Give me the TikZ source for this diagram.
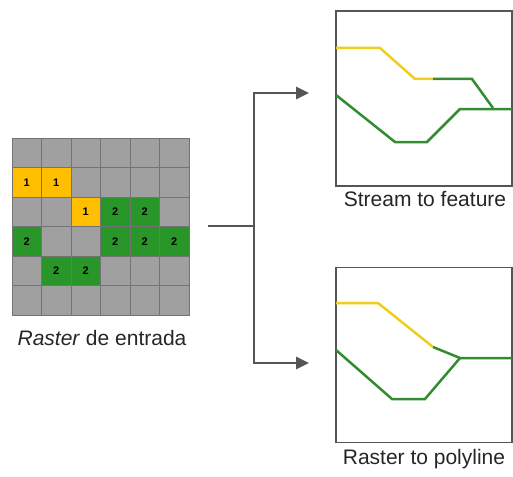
\documentclass[tikz,border=0pt]{standalone}
\usepackage{fontspec}
\setmainfont{Liberation Sans}
\usetikzlibrary{arrows.meta,positioning}

\definecolor{cellgray}{RGB}{160,160,160}
\definecolor{gridline}{RGB}{115,115,115}
\definecolor{cellyellow}{RGB}{255,190,0}
\definecolor{cellgreen}{RGB}{40,150,40}
\definecolor{lineyellow}{RGB}{240,205,30}
\definecolor{linegreen}{RGB}{50,140,50}
\definecolor{arrowgray}{RGB}{85,85,85}

\tikzset{
  cell/.style={draw=gridline, line width=0.8pt, minimum size=29.5pt, inner sep=0pt,
    font=\fontsize{11}{11}\selectfont\bfseries},
  panel/.style={draw=arrowgray, line width=1.5pt, minimum width=176pt, minimum height=175pt},
  caption/.style={font=\fontsize{21}{24}\selectfont, text=black!85},
  flow/.style={draw=arrowgray, line width=2.8pt},
  yline/.style={draw=lineyellow, line width=2.5pt},
  gline/.style={draw=linegreen, line width=2.5pt},
}

\begin{document}
\begin{tikzpicture}[x=1pt,y=-1pt]
\useasboundingbox (0,0) rectangle (513,476);

% input raster
\foreach \r in {0,...,5}
  \foreach \c in {0,...,5}
    \node[cell, fill=cellgray] (g\r\c) at ({26.75+29.5*\c},{152.75+29.5*\r}) {};
\foreach \r/\c in {1/0, 1/1, 2/2}
  \node[cell, fill=cellyellow] (y\r\c) at ({26.75+29.5*\c},{152.75+29.5*\r}) {1};
\foreach \r/\c in {2/3, 2/4, 3/0, 3/3, 3/4, 3/5, 4/1, 4/2}
  \node[cell, fill=cellgreen] (v\r\c) at ({26.75+29.5*\c},{152.75+29.5*\r}) {2};
\node[caption] (rin) at (102,338) {\textit{Raster} de entrada};

% output panels
\node[panel] (sf) at (424,98.5) {};
\node[caption] (sflabel) at (425,199) {Stream to feature};
\node[panel] (rp) at (424,355) {};
\node[caption] (rplabel) at (424,459) {Raster to polyline};

% Stream to feature
\draw[yline] (336,48) -- (380,48) -- (415,79) -- (433,79);
\draw[gline] (433,79) -- (472,79) -- (493,108);
\draw[gline] (336,95) -- (395,142) -- (427,142) -- (460,109) -- (512,109);

% Raster to polyline
\draw[yline] (336,303) -- (378,303) -- (433,347);
\draw[gline] (433,347) -- (460,358) -- (512,358);
\draw[gline] (336,350) -- (392,399) -- (425,399) -- (460,358);

% split arrows
\coordinate (stem) at (208,226);
\coordinate (fork) at (254,226);
\coordinate (up) at (309,93);
\coordinate (down) at (309,363);
\draw[flow] (stem) -- (fork);
\draw[flow, -{Triangle[length=13pt,width=12pt]}] (fork) |- (up);
\draw[flow, -{Triangle[length=13pt,width=12pt]}] (fork) |- (down);
\end{tikzpicture}
\end{document}
